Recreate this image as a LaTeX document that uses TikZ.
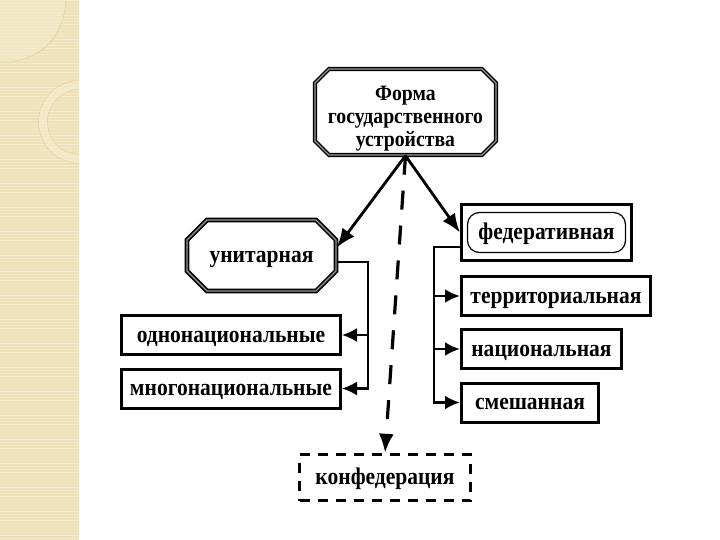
\documentclass[tikz,border=0pt]{standalone}
\usepackage{fontspec}
\setmainfont{Liberation Serif}[FakeStretch=0.9]
\usetikzlibrary{arrows.meta,shapes.misc}
\definecolor{stripBg}{HTML}{EEE0B8}
\definecolor{stripLight}{HTML}{F4EACB}
\definecolor{stripLine}{HTML}{E3D3A6}
\definecolor{borderGap}{HTML}{9A9A9A}

\begin{document}
\begin{tikzpicture}[
    x=1bp,y=-1bp,>=Latex,
    every node/.style={font=\bfseries\fontsize{24}{26}\selectfont,align=center,inner sep=0pt},
    oneline/.style={text height=14bp,text depth=0bp},
    formbox/.style={chamfered rectangle,chamfered rectangle xsep=7bp,chamfered rectangle ysep=7bp,draw,line width=1.4bp,double=borderGap,double distance=1.3bp,minimum width=181bp,minimum height=86bp,text height=45bp,text depth=21bp,font=\bfseries\fontsize{22}{23}\selectfont},
    unitbox/.style={oneline,chamfered rectangle,chamfered rectangle xsep=13bp,chamfered rectangle ysep=13bp,draw,line width=1.7bp,double=borderGap,double distance=1.2bp,minimum width=149bp,minimum height=71bp},
    fedbox/.style={draw,line width=3.2bp,minimum width=170bp,minimum height=56bp},
    fedinner/.style={oneline,draw,line width=1.2bp,rounded corners=12bp,minimum width=158bp,minimum height=40bp},
    leafbox/.style={oneline,draw,line width=3bp,minimum height=39bp},
    confbox/.style={oneline,draw,line width=3.4bp,dash pattern=on 10bp off 8bp,minimum width=171bp,minimum height=46bp},
    flow/.style={-{Latex[length=19bp,width=15bp]},line width=2.8bp},
    confflow/.style={flow,line width=3.2bp,dash pattern=on 19bp off 16bp},
    branch/.style={-{Latex[length=15bp,width=14bp]},line width=2.2bp},
    fedbranch/.style={branch,line width=2.8bp}
]
\useasboundingbox (0,0) rectangle (720,540);

% left strip of the slide
\begin{scope}
\clip (0,0) rectangle (79,540);
\fill[stripBg] (0,0) rectangle (79,540);
\foreach \y in {1,4,...,540}
  \draw[white,opacity=0.3,line width=1bp] (0,\y) -- (79,\y);
\fill[stripLight,opacity=0.6] (0,0) -- (66,0) .. controls (64,35) and (45,56) .. (12,62) -- (0,62) -- cycle;
\draw[stripLine,line width=0.7bp] (66,0) .. controls (64,35) and (45,56) .. (12,62) -- (0,62);
\draw[stripLight,opacity=0.8,line width=9bp] (80,122) circle (37);
\draw[stripLine,line width=0.6bp] (80,122) circle (41.5);
\draw[stripLine,line width=0.6bp] (80,122) circle (32.5);
\end{scope}

\node[formbox] (form) at (405.5,112) {\begin{tabular}{@{}c@{}}Форма\\государственного\\устройства\end{tabular}};
\node[unitbox] (unitar) at (261.5,255.5) {унитарная};
\node[fedbox] (feder) at (546.5,232.5) {};
\node[fedinner] (federin) at (feder.center) {федеративная};

\node[leafbox,minimum width=219bp] (odno) at (231,335) {однонациональные};
\node[leafbox,minimum width=219bp] (mnogo) at (231,388.5) {многонациональные};
\node[leafbox,minimum width=189bp] (terr) at (556,296) {территориальная};
\node[leafbox,minimum width=160bp] (nats) at (541.5,349) {национальная};
\node[leafbox,minimum width=137bp] (smesh) at (530,402.5) {смешанная};
\node[confbox] (konf) at (385,477.5) {конфедерация};

\draw[flow] (form.south) -- ([yshift=8bp]unitar.east);
\draw[flow] (form.south) -- (feder.west);
\draw[confflow] (form.south) -- (konf.north);

\draw[branch] ([yshift=-6.5bp]unitar.east) -- ++(31,0) |- (odno.east);
\draw[branch] ([yshift=-6.5bp]unitar.east) -- ++(31,0) |- (mnogo.east);

\draw[fedbranch] ([yshift=-14.5bp]feder.west) -- ++(-26,0) |- (terr.west);
\draw[fedbranch] ([yshift=-14.5bp]feder.west) -- ++(-26,0) |- (nats.west);
\draw[fedbranch] ([yshift=-14.5bp]feder.west) -- ++(-26,0) |- (smesh.west);
\end{tikzpicture}
\end{document}
